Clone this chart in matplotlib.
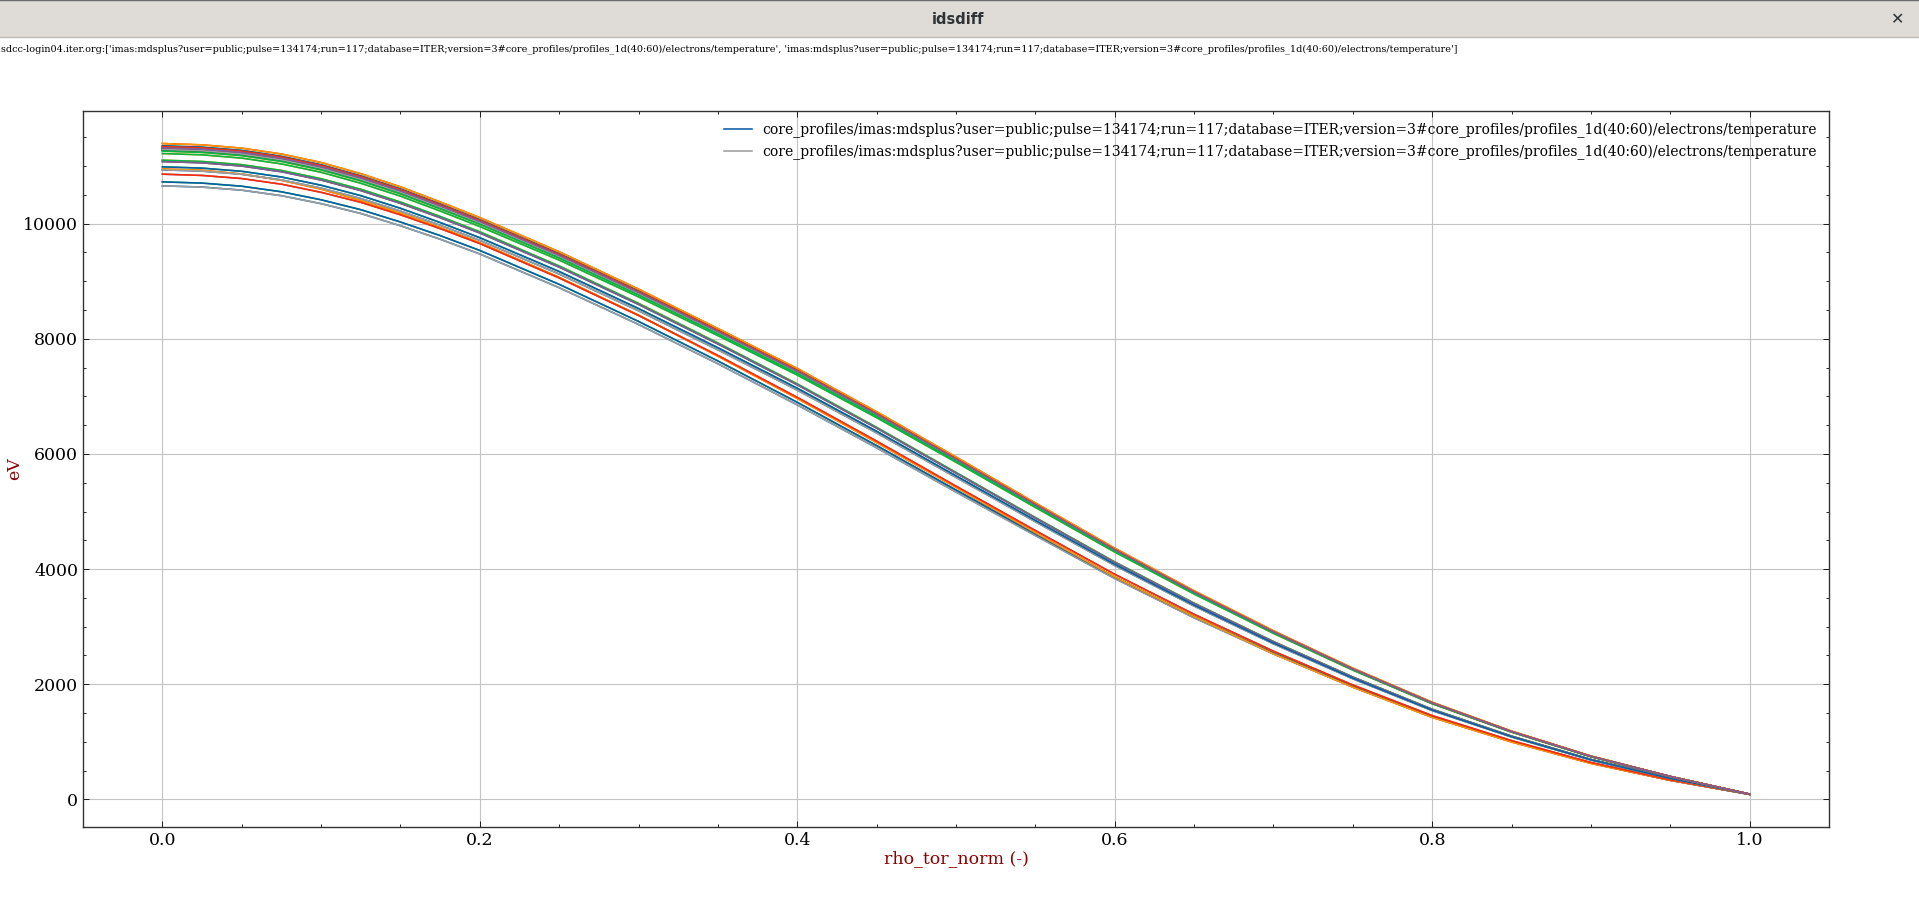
import numpy as np
import matplotlib
matplotlib.use("Agg")
import matplotlib.pyplot as plt
from matplotlib.patches import Rectangle
from matplotlib.lines import Line2D
from matplotlib.ticker import AutoMinorLocator

# ---------------- data ----------------
RHO = [0.000, 0.025, 0.050, 0.075, 0.100, 0.125, 0.150, 0.175, 0.200,
       0.25, 0.30, 0.35, 0.40, 0.45, 0.50, 0.55, 0.60, 0.65, 0.70, 0.75,
       0.80, 0.85, 0.90, 0.95, 1.00]

TE_00 = [10657, 10636, 10582, 10486, 10348, 10177, 9964, 9730, 9474,
         8888, 8249, 7566, 6852, 6106, 5339, 4583, 3837, 3154, 2526, 1950,
         1428, 1002, 629, 330, 85]
TE_01 = [10726, 10705, 10651, 10554, 10415, 10243, 10029, 9793, 9535,
         8946, 8302, 7615, 6897, 6146, 5374, 4612, 3861, 3175, 2542, 1963,
         1437, 1008, 633, 333, 86]
TE_02 = [11103, 11081, 11025, 10925, 10781, 10598, 10376, 10126, 9859,
         9265, 8616, 7928, 7217, 6462, 5679, 4896, 4125, 3409, 2742, 2126,
         1566, 1099, 694, 366, 89]
TE_03 = [10950, 10928, 10862, 10753, 10600, 10403, 10184, 9932, 9669,
         9067, 8410, 7698, 6964, 6198, 5420, 4632, 3865, 3176, 2529, 1949,
         1424, 996, 624, 329, 88]
TE_04 = [10860, 10838, 10784, 10686, 10545, 10371, 10154, 9915, 9655,
         9057, 8406, 7711, 6983, 6223, 5441, 4670, 3910, 3215, 2574, 1987,
         1455, 1021, 641, 337, 87]
TE_05 = [11079, 11057, 11001, 10902, 10758, 10575, 10353, 10104, 9838,
         9245, 8597, 7910, 7201, 6448, 5667, 4886, 4116, 3401, 2737, 2122,
         1562, 1097, 692, 366, 89]
TE_06 = [11277, 11254, 11198, 11097, 10950, 10758, 10533, 10273, 10003,
         9416, 8774, 8097, 7409, 6665, 5887, 5097, 4319, 3586, 2898, 2255,
         1669, 1173, 744, 395, 90]
TE_07 = [10935, 10913, 10858, 10760, 10618, 10437, 10219, 9973, 9710,
         9125, 8486, 7808, 7108, 6364, 5593, 4822, 4062, 3357, 2701, 2094,
         1542, 1083, 683, 361, 87]
TE_08 = [10987, 10965, 10910, 10811, 10668, 10487, 10267, 10020, 9756,
         9169, 8526, 7845, 7142, 6394, 5620, 4845, 4082, 3373, 2714, 2104,
         1549, 1088, 687, 363, 88]
TE_09 = [11218, 11196, 11139, 11038, 10893, 10702, 10478, 10220, 9950,
         9367, 8728, 8055, 7370, 6630, 5856, 5071, 4296, 3567, 2883, 2244,
         1660, 1167, 740, 393, 90]
TE_10 = [11330, 11307, 11251, 11149, 11001, 10809, 10582, 10322, 10050,
         9461, 8815, 8135, 7444, 6696, 5914, 5121, 4339, 3603, 2912, 2266,
         1677, 1178, 748, 397, 91]
TE_11 = [11300, 11277, 11221, 11119, 10972, 10780, 10554, 10294, 10023,
         9436, 8791, 8113, 7424, 6678, 5899, 5108, 4328, 3593, 2904, 2260,
         1672, 1175, 746, 396, 90]
TE_12 = [11310, 11287, 11231, 11129, 10982, 10790, 10564, 10303, 10032,
         9444, 8799, 8121, 7431, 6684, 5904, 5112, 4332, 3597, 2907, 2262,
         1674, 1176, 746, 396, 90]
TE_13 = [11294, 11271, 11215, 11113, 10966, 10774, 10549, 10289, 10018,
         9430, 8787, 8109, 7420, 6675, 5895, 5105, 4326, 3591, 2903, 2259,
         1672, 1175, 745, 395, 90]
TE_14 = [11290, 11267, 11211, 11109, 10963, 10771, 10545, 10285, 10014,
         9427, 8784, 8106, 7418, 6672, 5893, 5103, 4324, 3590, 2902, 2258,
         1671, 1174, 745, 395, 90]
TE_15 = [11352, 11329, 11273, 11170, 11023, 10830, 10603, 10342, 10069,
         9479, 8832, 8151, 7458, 6709, 5926, 5131, 4348, 3610, 2917, 2270,
         1680, 1181, 749, 397, 91]
TE_16 = [11260, 11237, 11181, 11080, 10933, 10742, 10517, 10258, 9988,
         9402, 8760, 8085, 7398, 6655, 5878, 5090, 4313, 3581, 2894, 2252,
         1666, 1171, 743, 394, 90]
TE_17 = [11392, 11369, 11312, 11210, 11062, 10868, 10640, 10378, 10105,
         9512, 8863, 8179, 7485, 6733, 5947, 5149, 4363, 3623, 2928, 2278,
         1686, 1185, 752, 399, 91]
TE_18 = [11340, 11317, 11261, 11159, 11011, 10818, 10592, 10331, 10059,
         9469, 8823, 8142, 7450, 6702, 5919, 5126, 4343, 3606, 2914, 2268,
         1678, 1179, 748, 397, 91]
TE_19 = [11320, 11297, 11241, 11139, 10992, 10799, 10573, 10313, 10041,
         9452, 8807, 8128, 7437, 6690, 5909, 5117, 4336, 3600, 2909, 2264,
         1675, 1177, 747, 396, 91]

PROFILES = [TE_00, TE_01, TE_02, TE_03, TE_04, TE_05, TE_06, TE_07, TE_08, TE_09,
            TE_10, TE_11, TE_12, TE_13, TE_14, TE_15, TE_16, TE_17, TE_18, TE_19]

URI = "imas:mdsplus?user=public;pulse=134174;run=117;database=ITER;version=3#core_profiles/profiles_1d(40:60)/electrons/temperature"
DATASETS = [URI, URI]
LEGEND_LABELS = ["core_profiles/" + u for u in DATASETS]
HEADER = "sdcc-login04.iter.org:[" + ", ".join("'" + u + "'" for u in DATASETS) + "]"
WINDOW_TITLE = "idsdiff"
XLABEL = "rho_tor_norm (-)"
YLABEL = "eV"

COLORS = ["#0C5DA5", "#00B945", "#FF9500", "#FF2C00", "#845B97", "#474747", "#9e9e9e"]

# ---------------- figure ----------------
W, H = 1919, 905
fig = plt.figure(figsize=(W / 100, H / 100), dpi=100)
fig.patch.set_facecolor("white")

# window title bar
fig.patches.append(Rectangle((0, 1 - 37 / H), 1, 37 / H, transform=fig.transFigure,
                             facecolor="#dfdcd8", edgecolor="none", zorder=0))
fig.lines.append(Line2D([0, 1], [1 - 37 / H, 1 - 37 / H], transform=fig.transFigure,
                        color="#bdb8b3", lw=1))
fig.lines.append(Line2D([0, 1], [1 - 0.5 / H, 1 - 0.5 / H], transform=fig.transFigure,
                        color="#6b6b6b", lw=1))
fig.text(958 / W, 1 - 20 / H, WINDOW_TITLE, ha="center", va="center",
         fontsize=10.5, fontweight="bold", family="DejaVu Sans", color="#2e3436")
fig.text(1898 / W, 1 - 20 / H, "\u2715", ha="center", va="center",
         fontsize=11.5, fontweight="bold", family="DejaVu Sans", color="#2e3436")

fig.text(1 / W, 1 - 49 / H, HEADER, ha="left", va="center",
         fontsize=6.9, family="DejaVu Serif", color="black")

ax = fig.add_axes([83 / W, 1 - 827 / H, (1829 - 83) / W, (827 - 111) / H])

n = len(PROFILES)
for d, lab in enumerate(LEGEND_LABELS):
    for i, prof in enumerate(PROFILES):
        c = COLORS[(d * n + i) % len(COLORS)]
        ax.plot(RHO, prof, color=c, lw=1.15, label=lab if i == 0 else None)

ax.grid(True, color="#c4c4c4", lw=0.8)
ax.set_axisbelow(True)
ax.xaxis.set_minor_locator(AutoMinorLocator())
ax.yaxis.set_minor_locator(AutoMinorLocator())
ax.tick_params(which="both", direction="in", top=True, right=True, colors="black",
               labelsize=12.5, width=0.6)
ax.tick_params(which="major", length=4.5)
ax.tick_params(which="minor", length=2.3)
for lab in ax.get_xticklabels() + ax.get_yticklabels():
    lab.set_family("DejaVu Serif")
for s in ax.spines.values():
    s.set_color("#333333")
    s.set_linewidth(1.0)

ax.set_xlabel(XLABEL, color="#8b0000", fontsize=12.5, family="DejaVu Serif", labelpad=1)
ax.set_ylabel(YLABEL, color="#8b0000", fontsize=12.5, family="DejaVu Serif")
ax.yaxis.set_label_coords(-0.0345, 0.5)

leg = ax.legend(loc="upper right", frameon=False, handlelength=2.0,
                prop={"family": "DejaVu Serif", "size": 10}, borderaxespad=0.45,
                labelspacing=0.45)

fig.savefig("out.png", dpi=100)
